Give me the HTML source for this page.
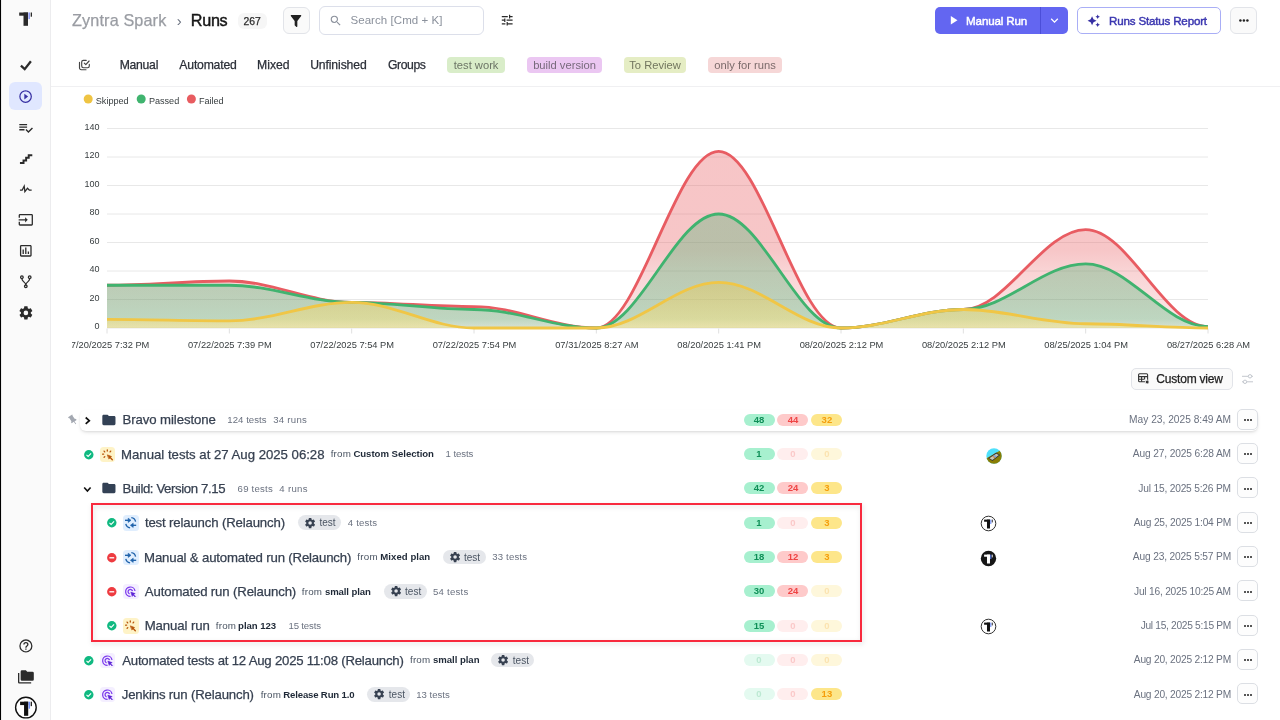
<!DOCTYPE html>
<html lang="en">
<head>
<meta charset="utf-8">
<title>Runs</title>
<style>
*{box-sizing:border-box;margin:0;padding:0}
html,body{width:1280px;height:720px;overflow:hidden;background:#fff}
body{font-family:"Liberation Sans",Arial,sans-serif;color:#1f2937;position:relative;font-size:12px}
.abs{position:absolute}
svg{position:absolute;overflow:visible}
.t{position:absolute;white-space:nowrap;line-height:1}
#edge{left:0;top:0;width:2px;height:720px;background:linear-gradient(to right,#000 0,#000 1px,#d8d8d8 1px,#fff 2px)}
#side{left:0;top:0;width:51px;height:720px;background:#fafafa;border-right:1px solid #ececee}
.btn{position:absolute;border:1px solid #e2e4e9;border-radius:6px;background:#fafafa}
.tab{position:absolute;top:58px;font-size:12px;line-height:14px;color:#2b2f38;white-space:nowrap}
.lbl{position:absolute;top:57px;height:16px;border-radius:4px;font-size:11.2px;line-height:16.5px;text-align:center;white-space:nowrap;color:#6e6e6e}
.name{position:absolute;font-size:13px;line-height:16px;color:#374151;white-space:nowrap}
.meta{position:absolute;font-size:10px;line-height:12px;color:#6b7280;white-space:nowrap}
.meta b{color:#1f2937;font-weight:700}
.date{position:absolute;font-size:10px;line-height:12px;color:#6b7280;white-space:nowrap;text-align:right;right:50px}
.pill{position:absolute;height:12px;width:31px;border-radius:6px;font-size:9.5px;font-weight:700;line-height:12px;text-align:center}
.pg{background:#a7f0cf;color:#0e8f57}
.pr{background:#fecaca;color:#ef4444}
.py{background:#fde68a;color:#f59e0b}
.pg0{background:#e4faf0;color:#bce9d2}
.pr0{background:#ffeeee;color:#fbc9c9}
.py0{background:#fef7db;color:#fbe3b0}
.more{position:absolute;left:1237px;width:21px;height:21px;border:1px solid #dcdfe4;border-radius:5px;background:#fdfdfd}
.more i{position:absolute;top:9.3px;width:1.9px;height:1.9px;border-radius:50%;background:#222}
.tag{position:absolute;height:14.5px;border-radius:8px;background:#e5e7eb;font-size:10px;line-height:16px;color:#4b5563;white-space:nowrap;width:43px;padding-left:21.5px}
.ibox{position:absolute;width:15.4px;height:15.4px;border-radius:3.5px}
</style>
</head>
<body>
<div id="side" class="abs"></div>
<div id="edge" class="abs"></div>
<svg style="left:0;top:0" width="52" height="720" viewBox="0 0 52 720">
<rect x="19.20" y="12.50" width="8.80" height="3.20" fill="#2a2a2a"/><rect x="23.50" y="12.50" width="4.50" height="13.30" fill="#2a2a2a"/><rect x="28.40" y="12.50" width="1.60" height="6.60" fill="#8f9cf5"/><rect x="30.70" y="12.50" width="1.30" height="4.20" fill="#2a2a2a"/>
<circle cx="25.9" cy="707.6" r="10.3" fill="#fff" stroke="#111" stroke-width="1.4"/>
<rect x="20.10" y="701.70" width="8.11" height="3.39" fill="#111"/><rect x="24.06" y="701.70" width="4.15" height="14.10" fill="#111"/><rect x="28.58" y="701.70" width="1.48" height="7.00" fill="#6d8df7"/><rect x="30.70" y="701.70" width="1.20" height="4.45" fill="#111"/>
</svg>
<div class="abs" style="left:9px;top:82px;width:33px;height:28px;border-radius:6px;background:#e0e7ff"></div>
<svg style="left:16px;top:56px" width="20" height="20" viewBox="16 56 20 20"><path d="M20.9 65.6L24.7 69.1L30.9 61.3" fill="none" stroke="#2b2b2b" stroke-width="2.3"/></svg>
<svg style="left:18.20px;top:88.60px" width="15.20" height="15.20" viewBox="0 0 24 24"><path d="M12,20C7.59,20 4,16.41 4,12C4,7.59 7.59,4 12,4C16.41,4 20,7.59 20,12C20,16.41 16.41,20 12,20M12,2A10,10 0 0,0 2,12A10,10 0 0,0 12,22A10,10 0 0,0 22,12A10,10 0 0,0 12,2M10,16.5L16,12L10,7.5V16.5Z" fill="#3730a3" /></svg>
<svg style="left:18.00px;top:119.70px" width="15.60" height="15.60" viewBox="0 0 24 24"><path d="M14 10H2v2h12v-2zm0-4H2v2h12V6zM2 16h8v-2H2v2zm19.5-4.5L23 13l-7 7-4.5-4.5L13 14l3 3 5.5-5.5z" fill="#2b2b2b" /></svg>
<svg style="left:18.40px;top:150.60px" width="15.60" height="15.60" viewBox="0 0 24 24"><path d="M15,5V9H11V13H7V17H3V20H10V16H14V12H18V8H22V5H15Z" fill="#2b2b2b" /></svg>
<svg style="left:18.00px;top:181.40px" width="15.60" height="15.60" viewBox="0 0 24 24"><path d="M3,13H5.79L10.1,4.79L11.28,13.75L14.5,9.66L17.83,13H21V15H17L14.67,12.67L9.92,18.73L8.94,11.33L7,15H3V13Z" fill="#2b2b2b" /></svg>
<svg style="left:18.00px;top:211.90px" width="15.60" height="15.60" viewBox="0 0 24 24"><path d="M21 3.01H3c-1.1 0-2 .9-2 2V9h2V4.99h18v14.03H3V15H1v4.01c0 1.1.9 1.98 2 1.98h18c1.1 0 2-.88 2-1.98v-14c0-1.11-.9-2-2-2zM11 16l4-4-4-4v3H1v2h10v3z" fill="#2b2b2b" /></svg>
<svg style="left:17.80px;top:242.70px" width="15.60" height="15.60" viewBox="0 0 24 24"><path d="M9 17H7V10H9V17M13 17H11V7H13V17M17 17H15V13H17V17M19 19H5V5H19V19.1M19 3H5C3.9 3 3 3.9 3 5V19C3 20.1 3.9 21 5 21H19C20.1 21 21 20.1 21 19V5C21 3.9 20.1 3 19 3Z" fill="#2b2b2b" /></svg>
<svg style="left:18.10px;top:273.70px" width="15.60" height="15.60" viewBox="0 0 24 24"><path d="M6,2A3,3 0 0,1 9,5C9,6.28 8.19,7.38 7.06,7.81C7.15,8.27 7.39,8.83 8,9.63C9,10.92 11,12.83 12,14.17C13,12.83 15,10.92 16,9.63C16.61,8.83 16.85,8.27 16.94,7.81C15.81,7.38 15,6.28 15,5A3,3 0 0,1 18,2A3,3 0 0,1 21,5C21,6.32 20.14,7.45 18.95,7.85C18.87,8.37 18.64,9 18,9.83C17,11.17 15,13.08 14,14.38C13.39,15.17 13.15,15.73 13.06,16.19C14.19,16.62 15,17.72 15,19A3,3 0 0,1 12,22A3,3 0 0,1 9,19C9,17.72 9.81,16.62 10.94,16.19C10.85,15.73 10.61,15.17 10,14.38C9,13.08 7,11.17 6,9.83C5.36,9 5.13,8.37 5.05,7.85C3.86,7.45 3,6.32 3,5A3,3 0 0,1 6,2M6,4A1,1 0 0,0 5,5A1,1 0 0,0 6,6A1,1 0 0,0 7,5A1,1 0 0,0 6,4M18,4A1,1 0 0,0 17,5A1,1 0 0,0 18,6A1,1 0 0,0 19,5A1,1 0 0,0 18,4M12,18A1,1 0 0,0 11,19A1,1 0 0,0 12,20A1,1 0 0,0 13,19A1,1 0 0,0 12,18Z" fill="#2b2b2b" /></svg>
<svg style="left:18.00px;top:304.50px" width="15.80" height="15.80" viewBox="0 0 24 24"><path d="M12,15.5A3.5,3.5 0 0,1 8.5,12A3.5,3.5 0 0,1 12,8.5A3.5,3.5 0 0,1 15.5,12A3.5,3.5 0 0,1 12,15.5M19.43,12.97C19.47,12.65 19.5,12.33 19.5,12C19.5,11.67 19.47,11.34 19.43,11L21.54,9.37C21.73,9.22 21.78,8.95 21.66,8.73L19.66,5.27C19.54,5.05 19.27,4.96 19.05,5.05L16.56,6.05C16.04,5.66 15.5,5.32 14.87,5.07L14.5,2.42C14.46,2.18 14.25,2 14,2H10C9.75,2 9.54,2.18 9.5,2.42L9.13,5.07C8.5,5.32 7.96,5.66 7.44,6.05L4.95,5.05C4.73,4.96 4.46,5.05 4.34,5.27L2.34,8.73C2.21,8.95 2.27,9.22 2.46,9.37L4.57,11C4.53,11.34 4.5,11.67 4.5,12C4.5,12.33 4.53,12.65 4.57,12.97L2.46,14.63C2.27,14.78 2.21,15.05 2.34,15.27L4.34,18.73C4.46,18.95 4.73,19.03 4.95,18.95L7.44,17.94C7.96,18.34 8.5,18.68 9.13,18.93L9.5,21.58C9.54,21.82 9.75,22 10,22H14C14.25,22 14.46,21.82 14.5,21.58L14.87,18.93C15.5,18.67 16.04,18.34 16.56,17.94L19.05,18.95C19.27,19.03 19.54,18.95 19.66,18.73L21.66,15.27C21.78,15.05 21.73,14.78 21.54,14.63L19.43,12.97Z" fill="#2b2b2b" /></svg>
<svg style="left:17.80px;top:637.80px" width="15.80" height="15.80" viewBox="0 0 24 24"><path d="M11,18H13V16H11V18M12,2A10,10 0 0,0 2,12A10,10 0 0,0 12,22A10,10 0 0,0 22,12A10,10 0 0,0 12,2M12,20C7.59,20 4,16.41 4,12C4,7.59 7.59,4 12,4C16.41,4 20,7.59 20,12C20,16.41 16.41,20 12,20M12,6A4,4 0 0,0 8,10H10A2,2 0 0,1 12,8A2,2 0 0,1 14,10C14,12 11,11.75 11,15H13C13,12.75 16,12.5 16,10A4,4 0 0,0 12,6Z" fill="#2b2b2b" /></svg>
<svg style="left:18.00px;top:668.80px" width="15.80" height="15.80" viewBox="0 0 24 24"><path d="M22,4H14L12,2H6A2,2 0 0,0 4,4V16A2,2 0 0,0 6,18H22A2,2 0 0,0 24,16V6A2,2 0 0,0 22,4M2,6H0V11H0V20A2,2 0 0,0 2,22H20V20H2V6Z" fill="#2b2b2b" /></svg>
<div class="t" id="h-proj" style="left:72.09px;top:10.00px;font-size:16.2px;line-height:20px;color:#9a9da3;-webkit-text-stroke:.25px #9a9da3;letter-spacing:0.137px;">Zyntra Spark</div>
<div class="t" id="h-sep" style="left:176.66px;top:11.00px;font-size:15px;line-height:19px;color:#6b7280;">›</div>
<div class="t" id="h-runs" style="left:190.82px;top:10.00px;font-size:16.2px;line-height:20px;color:#161616;-webkit-text-stroke:.45px #161616;letter-spacing:-0.300px;">Runs</div>
<div class="abs" id="h-cnt" style="left:237.5px;top:12.5px;width:29.4px;height:16.2px;border-radius:6px;background:#f6f6f6"></div>
<div class="t" id="h-cntt" style="left:243.46px;top:15.00px;font-size:10.4px;line-height:13px;color:#2c2c2c;-webkit-text-stroke:.25px #2c2c2c;letter-spacing:0.031px;">267</div>
<div class="btn" id="h-filter" style="left:282.5px;top:6.7px;width:27.3px;height:27.3px"></div>
<svg style="left:288.20px;top:12.70px" width="16.00" height="16.00" viewBox="0 0 24 24"><path d="M14,12V19.88C14.04,20.18 13.94,20.5 13.71,20.71C13.32,21.1 12.69,21.1 12.3,20.71L10.29,18.7C10.06,18.47 9.96,18.16 10,17.87V12H9.97L4.21,4.62C3.87,4.19 3.95,3.56 4.38,3.22C4.57,3.08 4.78,3 5,3V3H19V3C19.22,3 19.43,3.08 19.62,3.22C20.05,3.56 20.13,4.19 19.79,4.62L14.03,12H14Z" fill="#222" /></svg>
<div class="btn" id="h-search" style="left:319px;top:6px;width:165px;height:29px;background:#fff;border-color:#dcdfea"></div>
<svg style="left:329.05px;top:13.85px" width="13.50" height="13.50" viewBox="0 0 24 24"><path d="M9.5,3A6.5,6.5 0 0,1 16,9.5C16,11.11 15.41,12.59 14.44,13.73L14.71,14H15.5L20.5,19L19,20.5L14,15.5V14.71L13.73,14.44C12.59,15.41 11.11,16 9.5,16A6.5,6.5 0 0,1 3,9.5A6.5,6.5 0 0,1 9.5,3M9.5,5C7,5 5,7 5,9.5C5,12 7,14 9.5,14C12,14 14,12 14,9.5C14,7 12,5 9.5,5Z" fill="#8b919c" /></svg>
<div class="t" id="h-stext" style="left:350.48px;top:13.00px;font-size:11.5px;line-height:14px;color:#8b919c;letter-spacing:0.060px;">Search [Cmd + K]</div>
<svg style="left:499.80px;top:13.20px" width="14.40" height="14.40" viewBox="0 0 24 24"><path d="M3,17V19H9V17H3M3,5V7H13V5H3M13,21V19H21V17H13V15H11V21H13M7,9V11H3V13H7V15H9V9H7M21,13V11H11V13H21M15,9H17V7H21V5H17V3H15V9Z" fill="#2b2b2b" /></svg>
<div class="abs" id="b-run" style="left:934.6px;top:6.8px;width:133.6px;height:27.4px;border-radius:5px;background:#6366f1"></div>
<div class="abs" style="left:1040px;top:6.8px;width:1px;height:27.4px;background:#4b4ed8"></div>
<svg style="left:945.75px;top:13.25px" width="14.50" height="14.50" viewBox="0 0 24 24"><path d="M8,5.14V19.14L19,12.14L8,5.14Z" fill="#fff" /></svg>
<div class="t" id="b-runt" style="left:966.05px;top:14.00px;font-size:11.6px;line-height:14px;color:#fff;-webkit-text-stroke:.45px #fff;letter-spacing:-0.138px;">Manual Run</div>
<svg style="left:1047.10px;top:13.20px" width="15.00" height="15.00" viewBox="0 0 24 24"><path d="M7.41,8.58L12,13.17L16.59,8.58L18,10L12,16L6,10L7.41,8.58Z" fill="#fff" /></svg>
<div class="abs" id="b-rep" style="left:1077.3px;top:6.8px;width:143.6px;height:27.4px;border-radius:5px;border:1px solid #a9aef6;background:#fff"></div>
<svg style="left:1087.25px;top:13.65px" width="13.50" height="13.50" viewBox="0 0 24 24"><path d="M19,1L17.74,3.75L15,5L17.74,6.26L19,9L20.25,6.26L23,5L20.25,3.75M9,4L6.5,9.5L1,12L6.5,14.5L9,20L11.5,14.5L17,12L11.5,9.5M19,15L17.74,17.74L15,19L17.74,20.25L19,23L20.25,20.25L23,19L20.25,17.74" fill="#3730a3" /></svg>
<div class="t" id="b-rept" style="left:1109.09px;top:14.00px;font-size:11.6px;line-height:14px;color:#3b37b0;-webkit-text-stroke:.45px #3b37b0;letter-spacing:-0.189px;">Runs Status Report</div>
<div class="btn" id="b-more" style="left:1230.2px;top:6.8px;width:27.3px;height:27.3px"></div>
<svg style="left:1230px;top:7px" width="28" height="28"><circle cx="10.4" cy="13.6" r="1.25" fill="#222"/><circle cx="13.9" cy="13.6" r="1.25" fill="#222"/><circle cx="17.4" cy="13.6" r="1.25" fill="#222"/></svg>
<svg style="left:76px;top:56px" width="20" height="18" viewBox="76 56 20 18" fill="none" stroke="#444" stroke-width="1.15" stroke-linecap="round" stroke-linejoin="round"><path d="M86.2 60.4H83.4a1.7 1.7 0 0 0-1.7 1.7v3.9a1.7 1.7 0 0 0 1.7 1.7h4.2a1.7 1.7 0 0 0 1.7-1.7V64.4"/><path d="M84.3 63.2l1.5 1.4 3.3-3.6"/><path d="M79.5 62.4v5.6a1.7 1.7 0 0 0 1.7 1.7h4.8"/></svg>
<div class="t" id="tab0" style="left:119.63px;top:57.50px;font-size:12.2px;line-height:15px;color:#2b2f38;-webkit-text-stroke:.25px #2b2f38;letter-spacing:-0.250px;">Manual</div>
<div class="t" id="tab1" style="left:179.37px;top:57.50px;font-size:12.2px;line-height:15px;color:#2b2f38;-webkit-text-stroke:.25px #2b2f38;letter-spacing:-0.193px;">Automated</div>
<div class="t" id="tab2" style="left:257.03px;top:57.50px;font-size:12.2px;line-height:15px;color:#2b2f38;-webkit-text-stroke:.25px #2b2f38;letter-spacing:0.030px;">Mixed</div>
<div class="t" id="tab3" style="left:310.15px;top:57.50px;font-size:12.2px;line-height:15px;color:#2b2f38;-webkit-text-stroke:.25px #2b2f38;letter-spacing:-0.111px;">Unfinished</div>
<div class="t" id="tab4" style="left:387.95px;top:57.50px;font-size:12.2px;line-height:15px;color:#2b2f38;-webkit-text-stroke:.25px #2b2f38;letter-spacing:-0.396px;">Groups</div>
<div class="lbl" style="left:447.2px;width:57.8px;background:#d9edc9;color:#6c7566">test work</div>
<div class="lbl" style="left:526.9px;width:75.3px;background:#ebc7f2;color:#776a7c">build version</div>
<div class="lbl" style="left:623.8px;width:62.5px;background:#e5edc4;color:#72765f">To Review</div>
<div class="lbl" style="left:708px;width:74.2px;background:#f6d7d7;color:#7b6b6b">only for runs</div>
<div class="abs" style="left:51px;top:86px;width:1229px;height:1px;background:#f0f0f2"></div>
<svg id="chart" style="left:52px;top:88px" width="1228" height="272" viewBox="52 88 1228 272" font-family="Liberation Sans, Arial, sans-serif">
<defs>
<linearGradient id="gr" x1="0" y1="0" x2="0" y2="1"><stop offset="0" stop-color="#e85c60" stop-opacity="0.355"/><stop offset=".56" stop-color="#e85c60" stop-opacity="0.35"/><stop offset=".67" stop-color="#e85c60" stop-opacity="0.27"/><stop offset=".864" stop-color="#e85c60" stop-opacity="0.19"/><stop offset="1" stop-color="#e85c60" stop-opacity="0.11"/></linearGradient>
<linearGradient id="gg" x1="0" y1="0" x2="0" y2="1"><stop offset="0" stop-color="#3fb26d" stop-opacity="0.325"/><stop offset=".92" stop-color="#3fb26d" stop-opacity="0.33"/><stop offset="1" stop-color="#3fb26d" stop-opacity="0.2"/></linearGradient>
<linearGradient id="gy" x1="0" y1="0" x2="0" y2="1"><stop offset="0" stop-color="#f2c744" stop-opacity="0.36"/><stop offset="1" stop-color="#ffe47d" stop-opacity="0.46"/></linearGradient>
<clipPath id="xclip"><rect x="72" y="330" width="1208" height="30"/></clipPath>
</defs>
<line x1="107" x2="1208" y1="328.00" y2="328.00" stroke="#e8e8e8" stroke-width="1"/>
<text x="99.5" y="329.00" text-anchor="end" font-size="9.0" fill="#373d3f">0</text>
<line x1="107" x2="1208" y1="299.50" y2="299.50" stroke="#e8e8e8" stroke-width="1"/>
<text x="99.5" y="300.50" text-anchor="end" font-size="9.0" fill="#373d3f">20</text>
<line x1="107" x2="1208" y1="271.00" y2="271.00" stroke="#e8e8e8" stroke-width="1"/>
<text x="99.5" y="272.00" text-anchor="end" font-size="9.0" fill="#373d3f">40</text>
<line x1="107" x2="1208" y1="242.50" y2="242.50" stroke="#e8e8e8" stroke-width="1"/>
<text x="99.5" y="243.50" text-anchor="end" font-size="9.0" fill="#373d3f">60</text>
<line x1="107" x2="1208" y1="214.00" y2="214.00" stroke="#e8e8e8" stroke-width="1"/>
<text x="99.5" y="215.00" text-anchor="end" font-size="9.0" fill="#373d3f">80</text>
<line x1="107" x2="1208" y1="185.50" y2="185.50" stroke="#e8e8e8" stroke-width="1"/>
<text x="99.5" y="186.50" text-anchor="end" font-size="9.0" fill="#373d3f">100</text>
<line x1="107" x2="1208" y1="157.00" y2="157.00" stroke="#e8e8e8" stroke-width="1"/>
<text x="99.5" y="158.00" text-anchor="end" font-size="9.0" fill="#373d3f">120</text>
<line x1="107" x2="1208" y1="128.50" y2="128.50" stroke="#e8e8e8" stroke-width="1"/>
<text x="99.5" y="129.50" text-anchor="end" font-size="9.0" fill="#373d3f">140</text>
<line x1="107.00" x2="107.00" y1="328.5" y2="333.5" stroke="#e0e0e0" stroke-width="1"/>
<line x1="229.33" x2="229.33" y1="328.5" y2="333.5" stroke="#e0e0e0" stroke-width="1"/>
<line x1="351.67" x2="351.67" y1="328.5" y2="333.5" stroke="#e0e0e0" stroke-width="1"/>
<line x1="474.00" x2="474.00" y1="328.5" y2="333.5" stroke="#e0e0e0" stroke-width="1"/>
<line x1="596.33" x2="596.33" y1="328.5" y2="333.5" stroke="#e0e0e0" stroke-width="1"/>
<line x1="718.67" x2="718.67" y1="328.5" y2="333.5" stroke="#e0e0e0" stroke-width="1"/>
<line x1="841.00" x2="841.00" y1="328.5" y2="333.5" stroke="#e0e0e0" stroke-width="1"/>
<line x1="963.33" x2="963.33" y1="328.5" y2="333.5" stroke="#e0e0e0" stroke-width="1"/>
<line x1="1085.67" x2="1085.67" y1="328.5" y2="333.5" stroke="#e0e0e0" stroke-width="1"/>
<line x1="1208.00" x2="1208.00" y1="328.5" y2="333.5" stroke="#e0e0e0" stroke-width="1"/>
<path d="M107.00 285.25C149.82 285.25 186.52 280.98 229.33 280.98C272.15 280.98 308.85 302.35 351.67 302.35C394.48 302.35 431.18 306.62 474.00 306.62C516.82 306.62 553.52 328.00 596.33 328.00C639.15 328.00 675.85 151.30 718.67 151.30C761.48 151.30 798.18 328.00 841.00 328.00C883.82 328.00 920.52 309.48 963.33 309.48C1006.15 309.48 1042.85 229.68 1085.67 229.68C1128.48 229.68 1165.18 326.57 1208.00 326.57L1208.00 328.00L107.00 328.00Z" fill="url(#gr)"/>
<path d="M107.00 285.25C149.82 285.25 186.52 280.98 229.33 280.98C272.15 280.98 308.85 302.35 351.67 302.35C394.48 302.35 431.18 306.62 474.00 306.62C516.82 306.62 553.52 328.00 596.33 328.00C639.15 328.00 675.85 151.30 718.67 151.30C761.48 151.30 798.18 328.00 841.00 328.00C883.82 328.00 920.52 309.48 963.33 309.48C1006.15 309.48 1042.85 229.68 1085.67 229.68C1128.48 229.68 1165.18 326.57 1208.00 326.57" fill="none" stroke="#e85c62" stroke-width="2.8" stroke-linecap="butt"/>
<path d="M107.00 285.25C149.82 285.25 186.52 285.25 229.33 285.25C272.15 285.25 308.85 302.35 351.67 302.35C394.48 302.35 431.18 309.48 474.00 309.48C516.82 309.48 553.52 328.00 596.33 328.00C639.15 328.00 675.85 214.00 718.67 214.00C761.48 214.00 798.18 328.00 841.00 328.00C883.82 328.00 920.52 309.48 963.33 309.48C1006.15 309.48 1042.85 263.88 1085.67 263.88C1128.48 263.88 1165.18 326.57 1208.00 326.57L1208.00 328.00L107.00 328.00Z" fill="url(#gg)"/>
<path d="M107.00 285.25C149.82 285.25 186.52 285.25 229.33 285.25C272.15 285.25 308.85 302.35 351.67 302.35C394.48 302.35 431.18 309.48 474.00 309.48C516.82 309.48 553.52 328.00 596.33 328.00C639.15 328.00 675.85 214.00 718.67 214.00C761.48 214.00 798.18 328.00 841.00 328.00C883.82 328.00 920.52 309.48 963.33 309.48C1006.15 309.48 1042.85 263.88 1085.67 263.88C1128.48 263.88 1165.18 326.57 1208.00 326.57" fill="none" stroke="#40b36f" stroke-width="2.8" stroke-linecap="butt"/>
<path d="M107.00 319.45C149.82 319.45 186.52 320.88 229.33 320.88C272.15 320.88 308.85 302.35 351.67 302.35C394.48 302.35 431.18 328.00 474.00 328.00C516.82 328.00 553.52 328.00 596.33 328.00C639.15 328.00 675.85 282.40 718.67 282.40C761.48 282.40 798.18 328.00 841.00 328.00C883.82 328.00 920.52 309.48 963.33 309.48C1006.15 309.48 1042.85 323.73 1085.67 323.73C1128.48 323.73 1165.18 328.00 1208.00 328.00L1208.00 328.00L107.00 328.00Z" fill="url(#gy)"/>
<path d="M107.00 319.45C149.82 319.45 186.52 320.88 229.33 320.88C272.15 320.88 308.85 302.35 351.67 302.35C394.48 302.35 431.18 328.00 474.00 328.00C516.82 328.00 553.52 328.00 596.33 328.00C639.15 328.00 675.85 282.40 718.67 282.40C761.48 282.40 798.18 328.00 841.00 328.00C883.82 328.00 920.52 309.48 963.33 309.48C1006.15 309.48 1042.85 323.73 1085.67 323.73C1128.48 323.73 1165.18 328.00 1208.00 328.00" fill="none" stroke="#f0c646" stroke-width="2.8" stroke-linecap="butt"/>
<g clip-path="url(#xclip)" font-size="9.3" fill="#373d3f" text-anchor="middle">
<text x="107.50" y="347.6">07/20/2025 7:32 PM</text>
<text x="229.83" y="347.6">07/22/2025 7:39 PM</text>
<text x="352.17" y="347.6">07/22/2025 7:54 PM</text>
<text x="474.50" y="347.6">07/22/2025 7:54 PM</text>
<text x="596.83" y="347.6">07/31/2025 8:27 AM</text>
<text x="719.17" y="347.6">08/20/2025 1:41 PM</text>
<text x="841.50" y="347.6">08/20/2025 2:12 PM</text>
<text x="963.83" y="347.6">08/20/2025 2:12 PM</text>
<text x="1086.17" y="347.6">08/25/2025 1:04 PM</text>
<text x="1208.50" y="347.6">08/27/2025 6:28 AM</text>
</g>
<circle cx="88.2" cy="99" r="4.5" fill="#efc443"/>
<text x="95.8" y="103.9" font-size="9.1" fill="#373d3f">Skipped</text>
<circle cx="141.2" cy="99" r="4.5" fill="#40b46f"/>
<text x="148.9" y="103.9" font-size="9.1" fill="#373d3f">Passed</text>
<circle cx="191.4" cy="99" r="4.5" fill="#e85c60"/>
<text x="198.9" y="103.9" font-size="9.1" fill="#373d3f">Failed</text>
</svg>
<div class="btn" style="left:1131.3px;top:368.4px;width:101.3px;height:21.2px;border-radius:5px"></div>
<svg style="left:1138px;top:373px" width="12" height="12" viewBox="0 0 12 12" fill="none" stroke="#333" stroke-width="1.1"><rect x=".6" y=".8" width="9" height="8" rx="1"/><path d="M.6 3.6H9.6M.6 6.2H6.5M3.6 3.6V8.8M6.6 3.6V6.2"/><circle cx="9.2" cy="9" r="1.9" fill="#333" stroke="#fafafa" stroke-width=".8"/></svg>
<div class="t" id="cv" style="left:1156.35px;top:371.50px;font-size:12px;line-height:15px;color:#222;-webkit-text-stroke:.25px #222;letter-spacing:-0.212px;">Custom view</div>
<svg style="left:1241px;top:373px" width="13" height="12" viewBox="0 0 13 12" fill="none" stroke="#c3c7ce" stroke-width="1"><path d="M1 3.3H7.2M10.8 3.3H12"/><circle cx="9" cy="3.3" r="1.7"/><path d="M1 8.8H2.2M5.8 8.8H12"/><circle cx="4" cy="8.8" r="1.7"/></svg>
<div class="abs" style="left:79.7px;top:409.5px;width:1178px;height:21.5px;border-radius:6px;background:#fff;box-shadow:0 2px 4px -1px rgba(0,0,0,.13),0 1px 2px rgba(0,0,0,.05)"></div>
<svg style="left:67.2px;top:413.7px" width="12" height="12" viewBox="0 0 24 24"><path d="M16,12V4H17V2H7V4H8V12L6,14V16H11.2V22H12.8V16H18V14L16,12Z" fill="#a3a8b1" transform="rotate(-35 12 12)"/></svg>
<svg style="left:80px;top:412px" width="16" height="16" viewBox="80 412 16 16"><path d="M85.7 417.5L89.3 420.65L85.7 423.8" fill="none" stroke="#111" stroke-width="1.7"/></svg>
<svg style="left:101.30px;top:411.80px" width="15.80" height="15.80" viewBox="0 0 24 24"><path d="M10,4H4C2.89,4 2,4.89 2,6V18A2,2 0 0,0 4,20H20A2,2 0 0,0 22,18V8C22,6.89 21.1,6 20,6H12L10,4Z" fill="#334155" /></svg>
<div class="t" id="n0" style="left:122.54px;top:411.50px;font-size:13.2px;line-height:16px;color:#374151;-webkit-text-stroke:.25px #374151;letter-spacing:-0.094px;">Bravo milestone</div>
<div class="t" id="m0a" style="left:227.33px;top:413.50px;font-size:9.6px;line-height:12px;color:#6b7280;letter-spacing:0.037px;">124 tests</div>
<div class="t" id="m0b" style="left:273.24px;top:413.50px;font-size:9.6px;line-height:12px;color:#6b7280;letter-spacing:0.255px;">34 runs</div>
<div class="pill pg" style="left:743.50px;top:413.60px">48</div><div class="pill pr" style="left:777.45px;top:413.60px">44</div><div class="pill py" style="left:811.40px;top:413.60px">32</div>
<div class="t" id="d0" style="left:1129.11px;top:413.00px;font-size:10.2px;line-height:13px;color:#6b7280;letter-spacing:-0.001px;">May 23, 2025 8:49 AM</div>
<div class="more" style="top:408.80px"><i style="left:6.2px"></i><i style="left:9.1px"></i><i style="left:12px"></i></div>
<svg style="left:83.60px;top:449.53px" width="9.6" height="9.6" viewBox="0 0 9.6 9.6"><circle cx="4.8" cy="4.8" r="4.7" fill="#10b981"/><path d="M2.5 4.9L4.1 6.4L7.1 3.3" fill="none" stroke="#fff" stroke-width="1.1"/></svg>
<div class="ibox" style="left:100.10px;top:446.53px;background:#fef3c7"></div><svg style="left:100.10px;top:446.53px" width="15.4" height="15.6" viewBox="0 0 15.4 15.6" fill="none" stroke="#b8570c" stroke-width="1.3" stroke-linecap="round"><path d="M4.1 4.1L4.7 4.9M7.3 3.0V4.1M10.7 4.1L10.1 4.9M2.6 7.2H3.6M4.1 10.3L4.8 9.6"/><path d="M7.6 8.0L11.5 9.5L9.1 11.7Z" fill="#b45309" stroke-width=".7" stroke-linejoin="round"/><path d="M10.2 10.6L12.3 12.7" stroke-width="1.4"/></svg>
<div class="t" id="n1" style="left:121.08px;top:446.50px;font-size:13.2px;line-height:16px;color:#374151;-webkit-text-stroke:.25px #374151;letter-spacing:-0.012px;">Manual tests at 27 Aug 2025 06:28</div>
<div class="t" id="m1f" style="left:330.69px;top:447.50px;font-size:9.8px;line-height:12px;color:#4b5563;letter-spacing:0.188px;">from</div><div class="t" id="m1b" style="left:353.40px;top:447.50px;font-size:9.6px;line-height:12px;color:#1f2937;font-weight:700;letter-spacing:-0.029px;">Custom Selection</div>
<div class="t" id="m1c" style="left:445.51px;top:447.50px;font-size:9.6px;line-height:12px;color:#6b7280;letter-spacing:-0.063px;">1 tests</div>
<div class="pill pg" style="left:743.50px;top:447.93px">1</div><div class="pill pr0" style="left:777.45px;top:447.93px">0</div><div class="pill py0" style="left:811.40px;top:447.93px">0</div>
<svg style="left:985.50px;top:447.53px" width="16" height="16" viewBox="0 0 16 16"><defs><clipPath id="avc"><circle cx="8" cy="8" r="7.7"/></clipPath></defs><g clip-path="url(#avc)"><rect width="16" height="16" fill="#4fe0fb"/><path d="M-1 11L17 1V17H-1Z" fill="#8a7e05"/><path d="M2 10.3L10.2 4.6L14.3 7L6.5 13Z" fill="#3a3a32"/><path d="M3.4 10.3L10.2 5.7L12.8 7.1L6.4 11.9Z" fill="#c9c4b0"/><path d="M7.2 8L8.6 7L11 8.3L9.6 9.4Z" fill="#7f9fd9"/><path d="M6.2 8.6L7.2 8L9.5 9.5L8.5 10.2Z" fill="#c98a4a"/></g></svg>
<div class="t" id="d1" style="left:1132.84px;top:447.00px;font-size:10.2px;line-height:13px;color:#6b7280;letter-spacing:-0.135px;">Aug 27, 2025 6:28 AM</div>
<div class="more" style="top:443.13px"><i style="left:6.2px"></i><i style="left:9.1px"></i><i style="left:12px"></i></div>
<svg style="left:80px;top:480.66px" width="16" height="16" viewBox="0 0 16 16"><path d="M4.2 6.5L7.4 10.1L10.6 6.5" fill="none" stroke="#111" stroke-width="1.6"/></svg>
<svg style="left:101.30px;top:480.46px" width="15.80" height="15.80" viewBox="0 0 24 24"><path d="M10,4H4C2.89,4 2,4.89 2,6V18A2,2 0 0,0 4,20H20A2,2 0 0,0 22,18V8C22,6.89 21.1,6 20,6H12L10,4Z" fill="#334155" /></svg>
<div class="t" id="n2" style="left:122.48px;top:480.50px;font-size:13.2px;line-height:16px;color:#374151;-webkit-text-stroke:.25px #374151;letter-spacing:-0.384px;">Build: Version 7.15</div>
<div class="t" id="m2a" style="left:237.57px;top:482.50px;font-size:9.6px;line-height:12px;color:#6b7280;letter-spacing:0.233px;">69 tests</div>
<div class="t" id="m2b" style="left:279.28px;top:482.50px;font-size:9.6px;line-height:12px;color:#6b7280;letter-spacing:0.313px;">4 runs</div>
<div class="pill pg" style="left:743.50px;top:482.26px">42</div><div class="pill pr" style="left:777.45px;top:482.26px">24</div><div class="pill py" style="left:811.40px;top:482.26px">3</div>
<div class="t" id="d2" style="left:1138.30px;top:482.00px;font-size:10.2px;line-height:13px;color:#6b7280;letter-spacing:-0.184px;">Jul 15, 2025 5:26 PM</div>
<div class="more" style="top:477.46px"><i style="left:6.2px"></i><i style="left:9.1px"></i><i style="left:12px"></i></div>
<div class="abs" style="left:90.7px;top:503px;width:771.4px;height:138.8px;border:2.1px solid #f82a3e;filter:drop-shadow(1px 2.5px 2.5px rgba(0,0,0,.13))"></div>
<svg style="left:106.70px;top:518.19px" width="9.6" height="9.6" viewBox="0 0 9.6 9.6"><circle cx="4.8" cy="4.8" r="4.7" fill="#10b981"/><path d="M2.5 4.9L4.1 6.4L7.1 3.3" fill="none" stroke="#fff" stroke-width="1.1"/></svg>
<div class="ibox" style="left:123.20px;top:515.19px;background:#e0eefe"></div><svg style="left:123.20px;top:515.19px" width="15.4" height="15.6" viewBox="0 0 15.4 15.6" fill="none" stroke="#1f62ab" stroke-width="1.35"><path d="M2 5.3H6"/><path d="M5.2 3.2L8 5.3L5.2 7.4Z" fill="#1f62ab" stroke-width=".6"/><path d="M8.3 2.7A5.1 5.1 0 0 1 12.6 6.6"/><path d="M13.2 10.3H9.6"/><path d="M10.2 8.2L7.4 10.3L10.2 12.4Z" fill="#1f62ab" stroke-width=".6"/><path d="M7.1 12.9A5.1 5.1 0 0 1 2.8 8.9"/></svg>
<div class="t" id="n3" style="left:144.92px;top:514.50px;font-size:13.2px;line-height:16px;color:#374151;-webkit-text-stroke:.25px #374151;letter-spacing:-0.154px;">test relaunch (Relaunch)</div>
<div class="tag" style="left:297.90px;top:515.49px">test</div><svg style="left:303.90px;top:516.59px" width="12.20" height="12.20" viewBox="0 0 24 24"><path d="M12,15.5A3.5,3.5 0 0,1 8.5,12A3.5,3.5 0 0,1 12,8.5A3.5,3.5 0 0,1 15.5,12A3.5,3.5 0 0,1 12,15.5M19.43,12.97C19.47,12.65 19.5,12.33 19.5,12C19.5,11.67 19.47,11.34 19.43,11L21.54,9.37C21.73,9.22 21.78,8.95 21.66,8.73L19.66,5.27C19.54,5.05 19.27,4.96 19.05,5.05L16.56,6.05C16.04,5.66 15.5,5.32 14.87,5.07L14.5,2.42C14.46,2.18 14.25,2 14,2H10C9.75,2 9.54,2.18 9.5,2.42L9.13,5.07C8.5,5.32 7.96,5.66 7.44,6.05L4.95,5.05C4.73,4.96 4.46,5.05 4.34,5.27L2.34,8.73C2.21,8.95 2.27,9.22 2.46,9.37L4.57,11C4.53,11.34 4.5,11.67 4.5,12C4.5,12.33 4.53,12.65 4.57,12.97L2.46,14.63C2.27,14.78 2.21,15.05 2.34,15.27L4.34,18.73C4.46,18.95 4.73,19.03 4.95,18.95L7.44,17.94C7.96,18.34 8.5,18.68 9.13,18.93L9.5,21.58C9.54,21.82 9.75,22 10,22H14C14.25,22 14.46,21.82 14.5,21.58L14.87,18.93C15.5,18.67 16.04,18.34 16.56,17.94L19.05,18.95C19.27,19.03 19.54,18.95 19.66,18.73L21.66,15.27C21.78,15.05 21.73,14.78 21.54,14.63L19.43,12.97Z" fill="#374151" /></svg>
<div class="t" id="m3" style="left:347.74px;top:516.50px;font-size:9.6px;line-height:12px;color:#6b7280;letter-spacing:0.195px;">4 tests</div>
<div class="pill pg" style="left:743.50px;top:516.59px">1</div><div class="pill pr0" style="left:777.45px;top:516.59px">0</div><div class="pill py" style="left:811.40px;top:516.59px">3</div>
<svg style="left:980.20px;top:515.39px" width="17" height="17" viewBox="0 0 17 17"><circle cx="8.5" cy="8.5" r="7.3" fill="#fff" stroke="#1a1a1a" stroke-width=".9"/><rect x="4.10" y="4.60" width="5.89" height="2.14" fill="#111"/><rect x="6.98" y="4.60" width="3.01" height="8.90" fill="#111"/><rect x="10.26" y="4.60" width="1.07" height="4.42" fill="#6d8df7"/><rect x="11.80" y="4.60" width="0.87" height="2.81" fill="#111"/></svg>
<div class="t" id="d3" style="left:1133.73px;top:516.00px;font-size:10.2px;line-height:13px;color:#6b7280;letter-spacing:-0.200px;">Aug 25, 2025 1:04 PM</div>
<div class="more" style="top:511.79px"><i style="left:6.2px"></i><i style="left:9.1px"></i><i style="left:12px"></i></div>
<svg style="left:106.70px;top:552.52px" width="9.6" height="9.6" viewBox="0 0 9.6 9.6"><circle cx="4.8" cy="4.8" r="4.7" fill="#ee3b40"/><path d="M2.4 4.8H7.2" fill="none" stroke="#fff" stroke-width="1.3"/></svg>
<div class="ibox" style="left:123.20px;top:549.52px;background:#e0eefe"></div><svg style="left:123.20px;top:549.52px" width="15.4" height="15.6" viewBox="0 0 15.4 15.6" fill="none" stroke="#1f62ab" stroke-width="1.35"><path d="M2 5.3H6"/><path d="M5.2 3.2L8 5.3L5.2 7.4Z" fill="#1f62ab" stroke-width=".6"/><path d="M8.3 2.7A5.1 5.1 0 0 1 12.6 6.6"/><path d="M13.2 10.3H9.6"/><path d="M10.2 8.2L7.4 10.3L10.2 12.4Z" fill="#1f62ab" stroke-width=".6"/><path d="M7.1 12.9A5.1 5.1 0 0 1 2.8 8.9"/></svg>
<div class="t" id="n4" style="left:144.08px;top:549.50px;font-size:13.2px;line-height:16px;color:#374151;-webkit-text-stroke:.25px #374151;letter-spacing:-0.166px;">Manual &amp; automated run (Relaunch)</div>
<div class="t" id="m4f" style="left:357.18px;top:550.50px;font-size:9.8px;line-height:12px;color:#4b5563;letter-spacing:0.311px;">from</div><div class="t" id="m4b" style="left:380.33px;top:550.50px;font-size:9.6px;line-height:12px;color:#1f2937;font-weight:700;letter-spacing:0.034px;">Mixed plan</div>
<div class="tag" style="left:442.50px;top:549.82px">test</div><svg style="left:448.50px;top:550.92px" width="12.20" height="12.20" viewBox="0 0 24 24"><path d="M12,15.5A3.5,3.5 0 0,1 8.5,12A3.5,3.5 0 0,1 12,8.5A3.5,3.5 0 0,1 15.5,12A3.5,3.5 0 0,1 12,15.5M19.43,12.97C19.47,12.65 19.5,12.33 19.5,12C19.5,11.67 19.47,11.34 19.43,11L21.54,9.37C21.73,9.22 21.78,8.95 21.66,8.73L19.66,5.27C19.54,5.05 19.27,4.96 19.05,5.05L16.56,6.05C16.04,5.66 15.5,5.32 14.87,5.07L14.5,2.42C14.46,2.18 14.25,2 14,2H10C9.75,2 9.54,2.18 9.5,2.42L9.13,5.07C8.5,5.32 7.96,5.66 7.44,6.05L4.95,5.05C4.73,4.96 4.46,5.05 4.34,5.27L2.34,8.73C2.21,8.95 2.27,9.22 2.46,9.37L4.57,11C4.53,11.34 4.5,11.67 4.5,12C4.5,12.33 4.53,12.65 4.57,12.97L2.46,14.63C2.27,14.78 2.21,15.05 2.34,15.27L4.34,18.73C4.46,18.95 4.73,19.03 4.95,18.95L7.44,17.94C7.96,18.34 8.5,18.68 9.13,18.93L9.5,21.58C9.54,21.82 9.75,22 10,22H14C14.25,22 14.46,21.82 14.5,21.58L14.87,18.93C15.5,18.67 16.04,18.34 16.56,17.94L19.05,18.95C19.27,19.03 19.54,18.95 19.66,18.73L21.66,15.27C21.78,15.05 21.73,14.78 21.54,14.63L19.43,12.97Z" fill="#374151" /></svg>
<div class="t" id="m4c" style="left:492.27px;top:550.50px;font-size:9.6px;line-height:12px;color:#6b7280;letter-spacing:0.159px;">33 tests</div>
<div class="pill pg" style="left:743.50px;top:550.92px">18</div><div class="pill pr" style="left:777.45px;top:550.92px">12</div><div class="pill py" style="left:811.40px;top:550.92px">3</div>
<svg style="left:980.20px;top:549.72px" width="17" height="17" viewBox="0 0 17 17"><circle cx="8.5" cy="8.5" r="7.7" fill="#161616"/><rect x="4.10" y="4.60" width="5.89" height="2.14" fill="#fff"/><rect x="6.98" y="4.60" width="3.01" height="8.90" fill="#fff"/><rect x="10.26" y="4.60" width="1.07" height="4.42" fill="#5b7ff5"/><rect x="11.80" y="4.60" width="0.87" height="2.81" fill="#fff"/></svg>
<div class="t" id="d4" style="left:1132.84px;top:550.00px;font-size:10.2px;line-height:13px;color:#6b7280;letter-spacing:-0.161px;">Aug 23, 2025 5:57 PM</div>
<div class="more" style="top:546.12px"><i style="left:6.2px"></i><i style="left:9.1px"></i><i style="left:12px"></i></div>
<svg style="left:106.70px;top:586.85px" width="9.6" height="9.6" viewBox="0 0 9.6 9.6"><circle cx="4.8" cy="4.8" r="4.7" fill="#ee3b40"/><path d="M2.4 4.8H7.2" fill="none" stroke="#fff" stroke-width="1.3"/></svg>
<div class="ibox" style="left:123.20px;top:583.85px;background:#f4efff"></div><svg style="left:123.20px;top:583.85px" width="15.4" height="15.6" viewBox="0 0 15.4 15.6" fill="none" stroke="#7c3aed" stroke-width="1.25"><path d="M7.6 12.4A4.7 4.7 0 1 1 12 7"/><path d="M6.6 9.9A2.3 2.3 0 1 1 9.6 7.2"/><path d="M7.8 8.1L12.2 9.6L10.6 10.4L12.6 12.4L12 13L10 11L9.2 12.5Z" fill="#5b21d6" stroke="#5b21d6" stroke-width=".5" stroke-linejoin="round"/></svg>
<div class="t" id="n5" style="left:144.86px;top:583.50px;font-size:13.2px;line-height:16px;color:#374151;-webkit-text-stroke:.25px #374151;letter-spacing:-0.144px;">Automated run (Relaunch)</div>
<div class="t" id="m5f" style="left:301.84px;top:585.50px;font-size:9.8px;line-height:12px;color:#4b5563;letter-spacing:0.179px;">from</div><div class="t" id="m5b" style="left:324.94px;top:585.50px;font-size:9.6px;line-height:12px;color:#1f2937;font-weight:700;letter-spacing:-0.112px;">small plan</div>
<div class="tag" style="left:383.60px;top:584.15px">test</div><svg style="left:389.60px;top:585.25px" width="12.20" height="12.20" viewBox="0 0 24 24"><path d="M12,15.5A3.5,3.5 0 0,1 8.5,12A3.5,3.5 0 0,1 12,8.5A3.5,3.5 0 0,1 15.5,12A3.5,3.5 0 0,1 12,15.5M19.43,12.97C19.47,12.65 19.5,12.33 19.5,12C19.5,11.67 19.47,11.34 19.43,11L21.54,9.37C21.73,9.22 21.78,8.95 21.66,8.73L19.66,5.27C19.54,5.05 19.27,4.96 19.05,5.05L16.56,6.05C16.04,5.66 15.5,5.32 14.87,5.07L14.5,2.42C14.46,2.18 14.25,2 14,2H10C9.75,2 9.54,2.18 9.5,2.42L9.13,5.07C8.5,5.32 7.96,5.66 7.44,6.05L4.95,5.05C4.73,4.96 4.46,5.05 4.34,5.27L2.34,8.73C2.21,8.95 2.27,9.22 2.46,9.37L4.57,11C4.53,11.34 4.5,11.67 4.5,12C4.5,12.33 4.53,12.65 4.57,12.97L2.46,14.63C2.27,14.78 2.21,15.05 2.34,15.27L4.34,18.73C4.46,18.95 4.73,19.03 4.95,18.95L7.44,17.94C7.96,18.34 8.5,18.68 9.13,18.93L9.5,21.58C9.54,21.82 9.75,22 10,22H14C14.25,22 14.46,21.82 14.5,21.58L14.87,18.93C15.5,18.67 16.04,18.34 16.56,17.94L19.05,18.95C19.27,19.03 19.54,18.95 19.66,18.73L21.66,15.27C21.78,15.05 21.73,14.78 21.54,14.63L19.43,12.97Z" fill="#374151" /></svg>
<div class="t" id="m5c" style="left:433.05px;top:585.50px;font-size:9.6px;line-height:12px;color:#6b7280;letter-spacing:0.220px;">54 tests</div>
<div class="pill pg" style="left:743.50px;top:585.25px">30</div><div class="pill pr" style="left:777.45px;top:585.25px">24</div><div class="pill py0" style="left:811.40px;top:585.25px">0</div>
<div class="t" id="d5" style="left:1134.00px;top:585.00px;font-size:10.2px;line-height:13px;color:#6b7280;letter-spacing:-0.215px;">Jul 16, 2025 10:25 AM</div>
<div class="more" style="top:580.45px"><i style="left:6.2px"></i><i style="left:9.1px"></i><i style="left:12px"></i></div>
<svg style="left:106.70px;top:621.18px" width="9.6" height="9.6" viewBox="0 0 9.6 9.6"><circle cx="4.8" cy="4.8" r="4.7" fill="#10b981"/><path d="M2.5 4.9L4.1 6.4L7.1 3.3" fill="none" stroke="#fff" stroke-width="1.1"/></svg>
<div class="ibox" style="left:123.20px;top:618.18px;background:#fef3c7"></div><svg style="left:123.20px;top:618.18px" width="15.4" height="15.6" viewBox="0 0 15.4 15.6" fill="none" stroke="#b8570c" stroke-width="1.3" stroke-linecap="round"><path d="M4.1 4.1L4.7 4.9M7.3 3.0V4.1M10.7 4.1L10.1 4.9M2.6 7.2H3.6M4.1 10.3L4.8 9.6"/><path d="M7.6 8.0L11.5 9.5L9.1 11.7Z" fill="#b45309" stroke-width=".7" stroke-linejoin="round"/><path d="M10.2 10.6L12.3 12.7" stroke-width="1.4"/></svg>
<div class="t" id="n6" style="left:144.66px;top:617.50px;font-size:13.2px;line-height:16px;color:#374151;-webkit-text-stroke:.25px #374151;letter-spacing:-0.098px;">Manual run</div>
<div class="t" id="m6f" style="left:215.78px;top:619.50px;font-size:9.8px;line-height:12px;color:#4b5563;letter-spacing:0.200px;">from</div><div class="t" id="m6b" style="left:238.12px;top:619.50px;font-size:9.6px;line-height:12px;color:#1f2937;font-weight:700;letter-spacing:-0.061px;">plan 123</div>
<div class="t" id="m6c" style="left:288.51px;top:619.50px;font-size:9.6px;line-height:12px;color:#6b7280;letter-spacing:-0.157px;">15 tests</div>
<div class="pill pg" style="left:743.50px;top:619.58px">15</div><div class="pill pr0" style="left:777.45px;top:619.58px">0</div><div class="pill py0" style="left:811.40px;top:619.58px">0</div>
<svg style="left:980.20px;top:618.38px" width="17" height="17" viewBox="0 0 17 17"><circle cx="8.5" cy="8.5" r="7.3" fill="#fff" stroke="#1a1a1a" stroke-width=".9"/><rect x="4.10" y="4.60" width="5.89" height="2.14" fill="#111"/><rect x="6.98" y="4.60" width="3.01" height="8.90" fill="#111"/><rect x="10.26" y="4.60" width="1.07" height="4.42" fill="#6d8df7"/><rect x="11.80" y="4.60" width="0.87" height="2.81" fill="#111"/></svg>
<div class="t" id="d6" style="left:1140.67px;top:619.00px;font-size:10.2px;line-height:13px;color:#6b7280;letter-spacing:-0.298px;">Jul 15, 2025 5:15 PM</div>
<div class="more" style="top:614.78px"><i style="left:6.2px"></i><i style="left:9.1px"></i><i style="left:12px"></i></div>
<svg style="left:83.60px;top:655.51px" width="9.6" height="9.6" viewBox="0 0 9.6 9.6"><circle cx="4.8" cy="4.8" r="4.7" fill="#10b981"/><path d="M2.5 4.9L4.1 6.4L7.1 3.3" fill="none" stroke="#fff" stroke-width="1.1"/></svg>
<div class="ibox" style="left:100.10px;top:652.51px;background:#f4efff"></div><svg style="left:100.10px;top:652.51px" width="15.4" height="15.6" viewBox="0 0 15.4 15.6" fill="none" stroke="#7c3aed" stroke-width="1.25"><path d="M7.6 12.4A4.7 4.7 0 1 1 12 7"/><path d="M6.6 9.9A2.3 2.3 0 1 1 9.6 7.2"/><path d="M7.8 8.1L12.2 9.6L10.6 10.4L12.6 12.4L12 13L10 11L9.2 12.5Z" fill="#5b21d6" stroke="#5b21d6" stroke-width=".5" stroke-linejoin="round"/></svg>
<div class="t" id="n7" style="left:122.19px;top:652.50px;font-size:13.2px;line-height:16px;color:#374151;-webkit-text-stroke:.25px #374151;letter-spacing:-0.216px;">Automated tests at 12 Aug 2025 11:08 (Relaunch)</div>
<div class="t" id="m7f" style="left:410.02px;top:653.50px;font-size:9.8px;line-height:12px;color:#4b5563;letter-spacing:0.185px;">from</div><div class="t" id="m7b" style="left:433.07px;top:653.50px;font-size:9.6px;line-height:12px;color:#1f2937;font-weight:700;letter-spacing:-0.052px;">small plan</div>
<div class="tag" style="left:491.30px;top:652.81px">test</div><svg style="left:497.30px;top:653.91px" width="12.20" height="12.20" viewBox="0 0 24 24"><path d="M12,15.5A3.5,3.5 0 0,1 8.5,12A3.5,3.5 0 0,1 12,8.5A3.5,3.5 0 0,1 15.5,12A3.5,3.5 0 0,1 12,15.5M19.43,12.97C19.47,12.65 19.5,12.33 19.5,12C19.5,11.67 19.47,11.34 19.43,11L21.54,9.37C21.73,9.22 21.78,8.95 21.66,8.73L19.66,5.27C19.54,5.05 19.27,4.96 19.05,5.05L16.56,6.05C16.04,5.66 15.5,5.32 14.87,5.07L14.5,2.42C14.46,2.18 14.25,2 14,2H10C9.75,2 9.54,2.18 9.5,2.42L9.13,5.07C8.5,5.32 7.96,5.66 7.44,6.05L4.95,5.05C4.73,4.96 4.46,5.05 4.34,5.27L2.34,8.73C2.21,8.95 2.27,9.22 2.46,9.37L4.57,11C4.53,11.34 4.5,11.67 4.5,12C4.5,12.33 4.53,12.65 4.57,12.97L2.46,14.63C2.27,14.78 2.21,15.05 2.34,15.27L4.34,18.73C4.46,18.95 4.73,19.03 4.95,18.95L7.44,17.94C7.96,18.34 8.5,18.68 9.13,18.93L9.5,21.58C9.54,21.82 9.75,22 10,22H14C14.25,22 14.46,21.82 14.5,21.58L14.87,18.93C15.5,18.67 16.04,18.34 16.56,17.94L19.05,18.95C19.27,19.03 19.54,18.95 19.66,18.73L21.66,15.27C21.78,15.05 21.73,14.78 21.54,14.63L19.43,12.97Z" fill="#374151" /></svg>
<div class="pill pg0" style="left:743.50px;top:653.91px">0</div><div class="pill pr0" style="left:777.45px;top:653.91px">0</div><div class="pill py0" style="left:811.40px;top:653.91px">0</div>
<div class="t" id="d7" style="left:1133.84px;top:653.00px;font-size:10.2px;line-height:13px;color:#6b7280;letter-spacing:-0.214px;">Aug 20, 2025 2:12 PM</div>
<div class="more" style="top:649.11px"><i style="left:6.2px"></i><i style="left:9.1px"></i><i style="left:12px"></i></div>
<svg style="left:83.60px;top:689.84px" width="9.6" height="9.6" viewBox="0 0 9.6 9.6"><circle cx="4.8" cy="4.8" r="4.7" fill="#10b981"/><path d="M2.5 4.9L4.1 6.4L7.1 3.3" fill="none" stroke="#fff" stroke-width="1.1"/></svg>
<div class="ibox" style="left:100.10px;top:686.84px;background:#f4efff"></div><svg style="left:100.10px;top:686.84px" width="15.4" height="15.6" viewBox="0 0 15.4 15.6" fill="none" stroke="#7c3aed" stroke-width="1.25"><path d="M7.6 12.4A4.7 4.7 0 1 1 12 7"/><path d="M6.6 9.9A2.3 2.3 0 1 1 9.6 7.2"/><path d="M7.8 8.1L12.2 9.6L10.6 10.4L12.6 12.4L12 13L10 11L9.2 12.5Z" fill="#5b21d6" stroke="#5b21d6" stroke-width=".5" stroke-linejoin="round"/></svg>
<div class="t" id="n8" style="left:121.76px;top:686.50px;font-size:13.2px;line-height:16px;color:#374151;-webkit-text-stroke:.25px #374151;letter-spacing:-0.161px;">Jenkins run (Relaunch)</div>
<div class="t" id="m8f" style="left:260.69px;top:688.50px;font-size:9.8px;line-height:12px;color:#4b5563;letter-spacing:0.188px;">from</div><div class="t" id="m8b" style="left:283.33px;top:688.50px;font-size:9.6px;line-height:12px;color:#1f2937;font-weight:700;letter-spacing:-0.174px;">Release Run 1.0</div>
<div class="tag" style="left:367.30px;top:687.14px">test</div><svg style="left:373.30px;top:688.24px" width="12.20" height="12.20" viewBox="0 0 24 24"><path d="M12,15.5A3.5,3.5 0 0,1 8.5,12A3.5,3.5 0 0,1 12,8.5A3.5,3.5 0 0,1 15.5,12A3.5,3.5 0 0,1 12,15.5M19.43,12.97C19.47,12.65 19.5,12.33 19.5,12C19.5,11.67 19.47,11.34 19.43,11L21.54,9.37C21.73,9.22 21.78,8.95 21.66,8.73L19.66,5.27C19.54,5.05 19.27,4.96 19.05,5.05L16.56,6.05C16.04,5.66 15.5,5.32 14.87,5.07L14.5,2.42C14.46,2.18 14.25,2 14,2H10C9.75,2 9.54,2.18 9.5,2.42L9.13,5.07C8.5,5.32 7.96,5.66 7.44,6.05L4.95,5.05C4.73,4.96 4.46,5.05 4.34,5.27L2.34,8.73C2.21,8.95 2.27,9.22 2.46,9.37L4.57,11C4.53,11.34 4.5,11.67 4.5,12C4.5,12.33 4.53,12.65 4.57,12.97L2.46,14.63C2.27,14.78 2.21,15.05 2.34,15.27L4.34,18.73C4.46,18.95 4.73,19.03 4.95,18.95L7.44,17.94C7.96,18.34 8.5,18.68 9.13,18.93L9.5,21.58C9.54,21.82 9.75,22 10,22H14C14.25,22 14.46,21.82 14.5,21.58L14.87,18.93C15.5,18.67 16.04,18.34 16.56,17.94L19.05,18.95C19.27,19.03 19.54,18.95 19.66,18.73L21.66,15.27C21.78,15.05 21.73,14.78 21.54,14.63L19.43,12.97Z" fill="#374151" /></svg>
<div class="t" id="m8c" style="left:416.24px;top:688.50px;font-size:9.6px;line-height:12px;color:#6b7280;letter-spacing:-0.012px;">13 tests</div>
<div class="pill pg0" style="left:743.50px;top:688.24px">0</div><div class="pill pr0" style="left:777.45px;top:688.24px">0</div><div class="pill py" style="left:811.40px;top:688.24px">13</div>
<div class="t" id="d8" style="left:1133.84px;top:688.00px;font-size:10.2px;line-height:13px;color:#6b7280;letter-spacing:-0.214px;">Aug 20, 2025 2:12 PM</div>
<div class="more" style="top:683.44px"><i style="left:6.2px"></i><i style="left:9.1px"></i><i style="left:12px"></i></div>
</body>
</html>
